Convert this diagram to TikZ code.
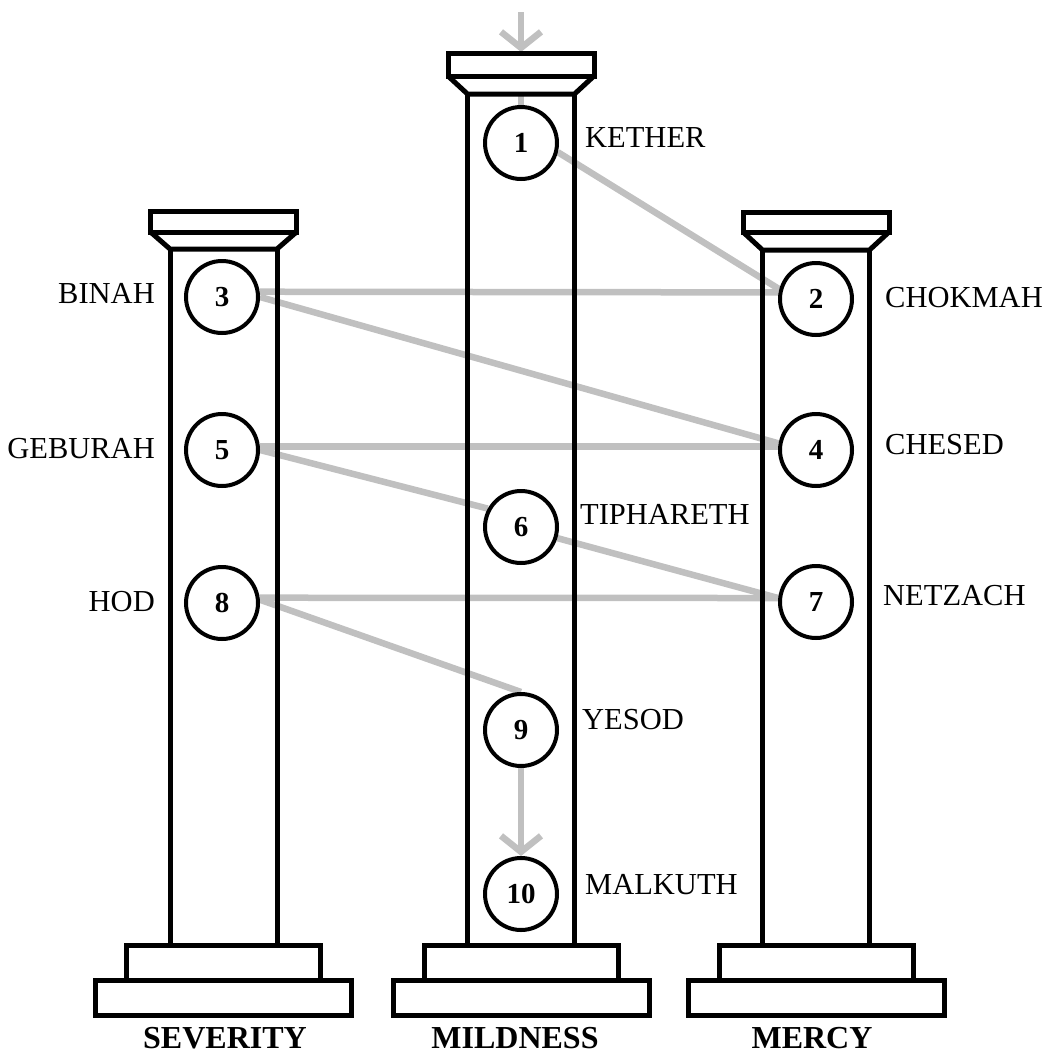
\documentclass[tikz,border=0pt]{standalone}
\usepackage{fontspec}
\setmainfont{Liberation Serif}
\usetikzlibrary{arrows.meta}
\definecolor{lgrey}{RGB}{192,192,192}
\pgfdeclarelayer{bg}
\pgfsetlayers{bg,main}
\newcommand{\pillarat}[4]{%
  \draw[pl] (#1-73,#2) rectangle (#1+73,#3);
  \draw[pl] (#1-73,#3) -- (#1-53.5,#4) -- (#1+53.5,#4) -- (#1+73,#3);
  \draw[pl] (#1-53.5,#4) -- (#1-53.5,945) (#1+53.5,#4) -- (#1+53.5,945);
  \draw[pl] (#1-97,945) rectangle (#1+97,980);
  \draw[pl] (#1-128,980) rectangle (#1+128,1015);
}
\begin{document}
\begin{tikzpicture}[x=1pt,y=-1pt,
  pl/.style={line width=5pt, line join=miter},
  sephira/.style={circle, draw, line width=4pt, fill=white, minimum size=72pt, inner sep=0pt, font=\fontsize{29}{29}\selectfont\bfseries},
  lab/.style={font=\fontsize{30.5}{30.5}\selectfont, inner sep=0pt},
  pname/.style={font=\fontsize{32}{32}\selectfont\bfseries, inner sep=0pt},
  conn/.style={draw=lgrey, line width=6.5pt},
  arr/.style={conn, -{Straight Barb[length=16pt,width=40pt]}}]
\useasboundingbox (0,0) rectangle (1050,1055);

% pillars
\pillarat{223.5}{211}{232}{249}
\pillarat{521}{53}{76}{94}
\pillarat{816}{212}{232}{250}

% sephiroth
\node[sephira] (s1) at (521,143) {1};
\node[sephira] (s2) at (816,299) {2};
\node[sephira] (s3) at (222,297) {3};
\node[sephira] (s4) at (816,450) {4};
\node[sephira] (s5) at (222,450) {5};
\node[sephira] (s6) at (521,527) {6};
\node[sephira] (s7) at (816,602) {7};
\node[sephira] (s8) at (222,603) {8};
\node[sephira] (s9) at (521,730) {9};
\node[sephira] (s10) at (521,894) {10};

% names
\node[lab, anchor=west] (lkether) at (585,138) {KETHER};
\node[lab, anchor=west] (lchokmah) at (885,298) {CHOKMAH};
\node[lab, anchor=east] (lbinah) at (155,293) {BINAH};
\node[lab, anchor=west] (lchesed) at (885,445) {CHESED};
\node[lab, anchor=east] (lgeburah) at (155,449) {GEBURAH};
\node[lab, anchor=west] (ltiph) at (580,514) {TIPHARETH};
\node[lab, anchor=west] (lnetzach) at (883,596) {NETZACH};
\node[lab, anchor=east] (lhod) at (155,602) {HOD};
\node[lab, anchor=west] (lyesod) at (582,720) {YESOD};
\node[lab, anchor=west] (lmalkuth) at (585,885) {MALKUTH};

\node[pname] (severity) at (225,1038) {SEVERITY};
\node[pname] (mildness) at (515,1038) {MILDNESS};
\node[pname] (mercy) at (812,1038) {MERCY};

\coordinate (topstart) at (521,12);
\coordinate (captop) at (521,52);
\coordinate (capbot) at (521,95);

\begin{pgfonlayer}{bg}
\draw[arr] (topstart) -- (captop);
\draw[conn] (capbot) -- (s1.north);
\draw[conn] (s1.-14) -- (s2.165);
\draw[conn] (s3.8) -- (s2.170);
\draw[conn] (s3.0) -- (s4.170);
\draw[conn] (s5.5) -- (s4.175);
\draw[conn] (s5.0) -- (s6.151);
\draw[conn] (s6.-17) -- (s7.174);
\draw[conn] (s8.8) -- (s7.174);
\draw[conn] (s8.5) -- (s9.90);
\draw[arr] (s9.south) -- (s10.north);
\end{pgfonlayer}
\end{tikzpicture}
\end{document}
